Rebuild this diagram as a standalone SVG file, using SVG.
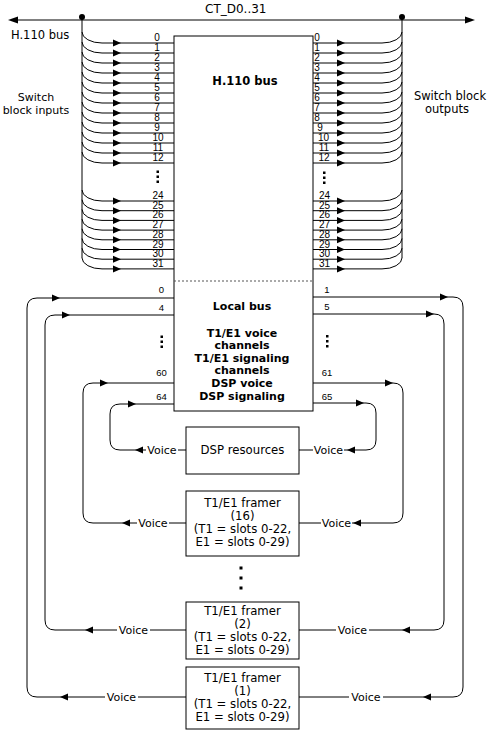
<svg xmlns="http://www.w3.org/2000/svg" width="491" height="730" viewBox="0 0 491 730">
<style>
.ln{fill:none;stroke:#000;stroke-width:1}
.box{fill:#fff;stroke:#000;stroke-width:1}
.t{font-family:"DejaVu Sans",Verdana,sans-serif;font-size:11.5px;fill:#000}
.bt{font-family:"DejaVu Sans",Verdana,sans-serif;font-size:11px;font-weight:bold;fill:#000;text-anchor:middle}
.bx{font-family:"DejaVu Sans",Verdana,sans-serif;font-size:11.7px;fill:#000;text-anchor:middle}
.v{font-family:"DejaVu Sans",Verdana,sans-serif;font-size:11px;fill:#000;text-anchor:middle}
.n{font-family:"Liberation Sans",Arial,sans-serif;font-size:10px;fill:#000;text-anchor:middle}
.s{font-family:"Liberation Sans",Arial,sans-serif;font-size:9.5px;fill:#000;text-anchor:middle}
.dot{fill:#000}
</style>
<defs>
<path id="ar" d="M0,0 L-8,-3.5 L-8,3.5 Z" fill="#000"/>
<path id="al" d="M0,0 L8,-3.5 L8,3.5 Z" fill="#000"/>
</defs>

<g id="bus">
<path class="ln" d="M16,20 H468"/>
<path d="M8,20 L18,16.5 L18,23.5 Z" fill="#000"/>
<path d="M475,20 L465,16.5 L465,23.5 Z" fill="#000"/>
<circle cx="82" cy="17" r="3" fill="#000"/>
<circle cx="402" cy="17" r="3" fill="#000"/>
<text class="t" x="205" y="12.5" style="font-size:12px">CT_D0..31</text>
<text class="t" x="11" y="38.5">H.110 bus</text>
<text class="t" x="36" y="100.5" text-anchor="middle" style="font-size:11px">Switch</text>
<text class="t" x="36" y="114" text-anchor="middle" style="font-size:11px">block inputs</text>
<text class="t" x="450" y="99.5" text-anchor="middle" style="font-size:11.5px">Switch block</text>
<text class="t" x="447" y="113" text-anchor="middle" style="font-size:11.5px">outputs</text>
</g>

<g id="switch-matrix">
<rect class="box" x="174" y="36" width="139" height="375"/>
<line x1="174" y1="281" x2="313" y2="281" stroke="#555" stroke-width="1" stroke-dasharray="2 2"/>
<text class="bt" x="245" y="85" style="font-size:11.5px">H.110 bus</text>
<text class="bt" x="242" y="310">Local bus</text>
<text class="bt" x="242" y="336.5">T1/E1 voice</text>
<text class="bt" x="242" y="348.5">channels</text>
<text class="bt" x="242" y="361.5">T1/E1 signaling</text>
<text class="bt" x="242" y="374">channels</text>
<text class="bt" x="242" y="386.5">DSP voice</text>
<text class="bt" x="242" y="400">DSP signaling</text>
</g>

<g id="dsp">
<rect class="box" x="186" y="427" width="113" height="47"/>
<text class="bx" x="242.5" y="454">DSP resources</text>
</g>

<g id="framer16">
<rect class="box" x="186" y="491" width="113" height="65"/>
<text class="bx" x="242.5" y="507">T1/E1 framer</text>
<text class="bx" x="242.5" y="520">(16)</text>
<text class="bx" x="242.5" y="533">(T1 = slots 0-22,</text>
<text class="bx" x="242.5" y="546">E1 = slots 0-29)</text>
</g>

<g id="framer2">
<rect class="box" x="186" y="602" width="113" height="57"/>
<text class="bx" x="242.5" y="615">T1/E1 framer</text>
<text class="bx" x="242.5" y="628">(2)</text>
<text class="bx" x="242.5" y="641">(T1 = slots 0-22,</text>
<text class="bx" x="242.5" y="654">E1 = slots 0-29)</text>
</g>

<g id="framer1">
<rect class="box" x="186" y="667" width="113" height="62"/>
<text class="bx" x="242.5" y="681.5">T1/E1 framer</text>
<text class="bx" x="242.5" y="694.5">(1)</text>
<text class="bx" x="242.5" y="707.5">(T1 = slots 0-22,</text>
<text class="bx" x="242.5" y="720.5">E1 = slots 0-29)</text>
</g>

<g id="connectors">
<!-- switch block inputs -->
<path class="ln" d="M82,17 V258"/>
<path class="ln" d="M82,32 A20,11 0 0 0 102,43 H174 M82,42 A20,11 0 0 0 102,53 H174 M82,52 A20,11 0 0 0 102,63 H174 M82,62 A20,11 0 0 0 102,73 H174 M82,72 A20,11 0 0 0 102,83 H174 M82,82 A20,11 0 0 0 102,93 H174 M82,92 A20,11 0 0 0 102,103 H174 M82,102 A20,11 0 0 0 102,113 H174 M82,112 A20,11 0 0 0 102,123 H174 M82,122 A20,11 0 0 0 102,133 H174 M82,132 A20,11 0 0 0 102,143 H174 M82,142 A20,11 0 0 0 102,153 H174 M82,152 A20,11 0 0 0 102,163 H174"/>
<path class="ln" d="M82,190 A20,11 0 0 0 102,201 H174 M82,199.7 A20,11 0 0 0 102,210.7 H174 M82,209.4 A20,11 0 0 0 102,220.4 H174 M82,219.1 A20,11 0 0 0 102,230.1 H174 M82,228.8 A20,11 0 0 0 102,239.8 H174 M82,238.5 A20,11 0 0 0 102,249.5 H174 M82,248.2 A20,11 0 0 0 102,259.2 H174 M82,257.9 A20,11 0 0 0 102,268.9 H174"/>
<use href="#ar" x="121" y="43"/><use href="#ar" x="121" y="53"/><use href="#ar" x="121" y="63"/><use href="#ar" x="121" y="73"/><use href="#ar" x="121" y="83"/><use href="#ar" x="121" y="93"/><use href="#ar" x="121" y="103"/><use href="#ar" x="121" y="113"/><use href="#ar" x="121" y="123"/><use href="#ar" x="121" y="133"/><use href="#ar" x="121" y="143"/><use href="#ar" x="121" y="153"/><use href="#ar" x="121" y="163"/>
<use href="#ar" x="121" y="201"/><use href="#ar" x="121" y="210.7"/><use href="#ar" x="121" y="220.4"/><use href="#ar" x="121" y="230.1"/><use href="#ar" x="121" y="239.8"/><use href="#ar" x="121" y="249.5"/><use href="#ar" x="121" y="259.2"/><use href="#ar" x="121" y="268.9"/>

<!-- switch block outputs -->
<path class="ln" d="M402,17 V258"/>
<path class="ln" d="M313,43 H382 A20,11 0 0 0 402,32 M313,53 H382 A20,11 0 0 0 402,42 M313,63 H382 A20,11 0 0 0 402,52 M313,73 H382 A20,11 0 0 0 402,62 M313,83 H382 A20,11 0 0 0 402,72 M313,93 H382 A20,11 0 0 0 402,82 M313,103 H382 A20,11 0 0 0 402,92 M313,113 H382 A20,11 0 0 0 402,102 M313,123 H382 A20,11 0 0 0 402,112 M313,133 H382 A20,11 0 0 0 402,122 M313,143 H382 A20,11 0 0 0 402,132 M313,153 H382 A20,11 0 0 0 402,142 M313,163 H382 A20,11 0 0 0 402,152"/>
<path class="ln" d="M313,201 H382 A20,11 0 0 0 402,190 M313,210.7 H382 A20,11 0 0 0 402,199.7 M313,220.4 H382 A20,11 0 0 0 402,209.4 M313,230.1 H382 A20,11 0 0 0 402,219.1 M313,239.8 H382 A20,11 0 0 0 402,228.8 M313,249.5 H382 A20,11 0 0 0 402,238.5 M313,259.2 H382 A20,11 0 0 0 402,248.2 M313,268.9 H382 A20,11 0 0 0 402,257.9"/>
<use href="#ar" x="345" y="43"/><use href="#ar" x="345" y="53"/><use href="#ar" x="345" y="63"/><use href="#ar" x="345" y="73"/><use href="#ar" x="345" y="83"/><use href="#ar" x="345" y="93"/><use href="#ar" x="345" y="103"/><use href="#ar" x="345" y="113"/><use href="#ar" x="345" y="123"/><use href="#ar" x="345" y="133"/><use href="#ar" x="345" y="143"/><use href="#ar" x="345" y="153"/><use href="#ar" x="345" y="163"/>
<use href="#ar" x="345" y="201"/><use href="#ar" x="345" y="210.7"/><use href="#ar" x="345" y="220.4"/><use href="#ar" x="345" y="230.1"/><use href="#ar" x="345" y="239.8"/><use href="#ar" x="345" y="249.5"/><use href="#ar" x="345" y="259.2"/><use href="#ar" x="345" y="268.9"/>

<!-- local bus loops -->
<path class="ln" d="M174,298 H37 Q27,298 27,308 V687 Q27,697 37,697 H105 M138,697 H186"/>
<use href="#ar" x="60" y="298"/><use href="#al" x="60" y="697"/>
<path class="ln" d="M313,297 H453 Q463,297 463,307 V687 Q463,697 453,697 H383 M349,697 H299"/>
<use href="#ar" x="448" y="297"/><use href="#al" x="423" y="697"/>

<path class="ln" d="M174,315 H55 Q45,315 45,325 V620 Q45,630 55,630 H117 M150,630 H186"/>
<use href="#ar" x="70" y="315"/><use href="#al" x="85" y="630"/>
<path class="ln" d="M313,314 H434 Q444,314 444,324 V620 Q444,630 434,630 H369 M336,630 H299"/>
<use href="#ar" x="434" y="314"/><use href="#al" x="402" y="630"/>

<path class="ln" d="M174,383 H93 Q83,383 83,393 V513 Q83,523 93,523 H137 M169,523 H186"/>
<use href="#ar" x="108" y="383"/><use href="#al" x="122" y="523"/>
<path class="ln" d="M313,383 H393 Q403,383 403,393 V513 Q403,523 393,523 H352 M321,523 H299"/>
<use href="#ar" x="393" y="383"/><use href="#al" x="353" y="523"/>

<path class="ln" d="M174,404 H120 Q110,404 110,414 V440 Q110,450 120,450 H146 M178,450 H186"/>
<use href="#ar" x="136" y="404"/><use href="#al" x="135" y="450"/>
<path class="ln" d="M313,403 H366 Q376,403 376,413 V440 Q376,450 366,450 H344 M313,450 H299"/>
<use href="#ar" x="364" y="403"/><use href="#al" x="347" y="450"/>
</g>

<g id="labels">
<text class="v" x="162" y="454">Voice</text>
<text class="v" x="328.5" y="454">Voice</text>
<text class="v" x="153" y="527">Voice</text>
<text class="v" x="336.5" y="527">Voice</text>
<text class="v" x="133.5" y="634">Voice</text>
<text class="v" x="352.5" y="634">Voice</text>
<text class="v" x="121.5" y="701">Voice</text>
<text class="v" x="366" y="701">Voice</text>

<text class="n" x="157" y="40.5">0</text><text class="n" x="157" y="50.5">1</text><text class="n" x="157" y="60.5">2</text><text class="n" x="157" y="70.5">3</text><text class="n" x="157" y="80.5">4</text><text class="n" x="157" y="90.5">5</text><text class="n" x="157" y="100.5">6</text><text class="n" x="157" y="110.5">7</text><text class="n" x="157" y="120.5">8</text><text class="n" x="157" y="130.5">9</text><text class="n" x="158" y="140.5">10</text><text class="n" x="158" y="150.5">11</text><text class="n" x="158" y="160.5">12</text>
<text class="n" x="158" y="199">24</text><text class="n" x="158" y="208.7">25</text><text class="n" x="158" y="218.4">26</text><text class="n" x="158" y="228.1">27</text><text class="n" x="158" y="237.8">28</text><text class="n" x="158" y="247.5">29</text><text class="n" x="158" y="257.2">30</text><text class="n" x="158" y="266.9">31</text>

<text class="n" x="317" y="40.5">0</text><text class="n" x="317" y="50.5">1</text><text class="n" x="317" y="60.5">2</text><text class="n" x="317" y="70.5">3</text><text class="n" x="317" y="80.5">4</text><text class="n" x="317" y="90.5">5</text><text class="n" x="317" y="100.5">6</text><text class="n" x="317" y="110.5">7</text><text class="n" x="317" y="120.5">8</text><text class="n" x="320" y="130.5">9</text><text class="n" x="323.5" y="140.5">10</text><text class="n" x="324" y="150.5">11</text><text class="n" x="324" y="160.5">12</text>
<text class="n" x="324.5" y="199">24</text><text class="n" x="324.5" y="208.7">25</text><text class="n" x="324.5" y="218.4">26</text><text class="n" x="324.5" y="228.1">27</text><text class="n" x="324.5" y="237.8">28</text><text class="n" x="324.5" y="247.5">29</text><text class="n" x="324.5" y="257.2">30</text><text class="n" x="324.5" y="266.9">31</text>

<text class="s" x="161.5" y="293">0</text>
<text class="s" x="161.5" y="310.5">4</text>
<text class="s" x="161.5" y="376">60</text>
<text class="s" x="161.5" y="399.5">64</text>
<text class="s" x="327" y="293">1</text>
<text class="s" x="327" y="309.5">5</text>
<text class="s" x="327" y="375.5">61</text>
<text class="s" x="327" y="399.5">65</text>
</g>

<g id="ellipses">
<rect class="dot" x="156.5" y="170.5" width="2.5" height="2.5"/><rect class="dot" x="156.5" y="175.5" width="2.5" height="2.5"/><rect class="dot" x="156.5" y="180.5" width="2.5" height="2.5"/>
<rect class="dot" x="323" y="171.5" width="2.5" height="2.5"/><rect class="dot" x="323" y="176.5" width="2.5" height="2.5"/><rect class="dot" x="323" y="181.5" width="2.5" height="2.5"/>
<rect class="dot" x="160.5" y="335.5" width="2.5" height="2.5"/><rect class="dot" x="160.5" y="340.5" width="2.5" height="2.5"/><rect class="dot" x="160.5" y="345.5" width="2.5" height="2.5"/>
<rect class="dot" x="326" y="335" width="2.5" height="2.5"/><rect class="dot" x="326" y="340" width="2.5" height="2.5"/><rect class="dot" x="326" y="345" width="2.5" height="2.5"/>
<rect class="dot" x="239.5" y="566.5" width="3" height="3"/><rect class="dot" x="239.5" y="576.5" width="3" height="3"/><rect class="dot" x="239.5" y="586.5" width="3" height="3"/>
</g>
</svg>
